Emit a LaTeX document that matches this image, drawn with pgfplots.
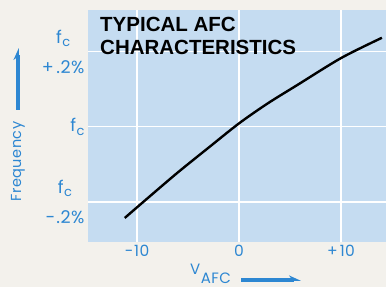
\documentclass[border=0pt]{standalone}
\usepackage{fontspec}
\setmainfont{Liberation Sans}
\newfontfamily\labelfont[LetterSpace=3]{Poppins}
\usepackage{pgfplots}
\pgfplotsset{compat=1.18}
\usetikzlibrary{arrows.meta}
\definecolor{afcbg}{RGB}{197,220,241}
\definecolor{afcblue}{RGB}{45,135,210}
\definecolor{afcpaper}{RGB}{243,241,236}
\begin{document}
\begin{tikzpicture}
\fill[afcpaper] (-88pt,-45pt) rectangle (298pt,242pt);
\begin{axis}[
  at={(0pt,0pt)}, anchor=south west,
  scale only axis, width=298pt, height=232pt,
  xmin=-14.8, xmax=14.4, ymin=-0.307, ymax=0.311,
  axis background/.style={fill=afcbg},
  axis line style={draw=none},
  xtick={-10,0,10}, xticklabels={−\kern1pt10,0,+\kern2pt10},
  ytick={-0.2,0,0.2},
  yticklabels={{f\kern0.5pt\raisebox{-3.5pt}{\fontsize{13}{13}\selectfont c}\\−\kern1.5pt.2\%},{f\kern0.5pt\raisebox{-3.5pt}{\fontsize{13}{13}\selectfont c}},{f\kern0.5pt\raisebox{-3.5pt}{\fontsize{13}{13}\selectfont c}\\+\kern2.5pt.2\%}},
  grid=major, grid style={white, line width=1.5pt},
  major tick length=0pt,
  tick label style={text=afcblue},
  xticklabel style={font=\labelfont\fontsize{15.5}{15.5}\selectfont},
  yticklabel style={align=center, font=\labelfont\fontsize{17.5}{30}\selectfont},
]
\addplot[black, line width=2.4pt, smooth] coordinates {
  (-11.2,-0.243) (-9.5,-0.203) (-6.1,-0.124) (-3,-0.056) (0,0.009)
  (2.8,0.062) (5.7,0.111) (10,0.183) (14.0,0.237)
};
\end{axis}
\node[anchor=north west, inner sep=0, align=left, font=\fontsize{20.5}{23}\selectfont\bfseries] at (12pt,224.7pt) {TYPICAL AFC\\CHARACTERISTICS};
\node[rotate=90, text=afcblue, font=\labelfont\fontsize{14.5}{15}\selectfont] at (-70pt,80.5pt) {Frequency};
\draw[afcblue, line width=3.2pt, -{Stealth[harpoon, length=10pt, width=9pt]}] (-70pt,132pt) -- (-70pt,194pt);
\node[anchor=base west, inner sep=0, text=afcblue, font=\labelfont\fontsize{15}{15}\selectfont] at (102pt,-32pt) {V\kern0.5pt\raisebox{-9pt}{AFC}};
\draw[afcblue, line width=3.2pt, -{Stealth[harpoon, length=10pt, width=9pt]}] (153pt,-38pt) -- (213pt,-38pt);
\pgfresetboundingbox
\path (-88pt,-45pt) rectangle (298pt,242pt);
\end{tikzpicture}
\end{document}
